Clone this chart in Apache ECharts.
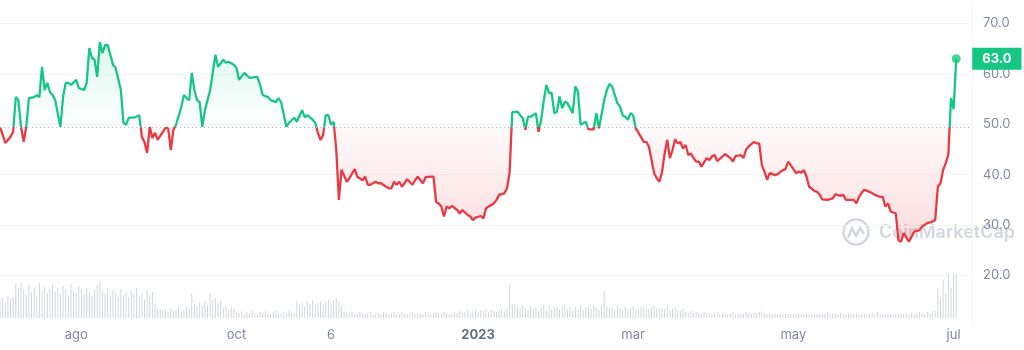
<!DOCTYPE html>
<html>
<head>
<meta charset="utf-8">
<script src="https://cdn.jsdelivr.net/npm/echarts@6/dist/echarts.min.js"></script>
<style>
  html, body { margin: 0; padding: 0; background: #ffffff; }
  #chart { width: 1024px; height: 350px; }
</style>
</head>
<body>
<div id="chart"></div>
<script>
// Daily category axis from the first day of the window to a few days past the last price.
const startDate = '2022-07-03';
const dayCount = 371;

// Bottom axis labels (date -> text)
const labelDates = ['2022-08-01', '2022-10-01', '2022-11-06', '2023-01-01', '2023-03-01', '2023-05-01', '2023-07-01'];
const labelTexts = ['ago', 'oct', '6', '2023', 'mar', 'may', 'jul'];

// Right axis tick labels
const yTickValues = [20, 30, 40, 50, 60, 70];

// Price: day offset from startDate and value
const priceDays = [
  0, 2, 4, 5, 6, 7, 8, 9, 10, 11, 13, 14, 15, 16, 17, 18, 19, 20, 21, 23,
  24, 25, 26, 27, 29, 30, 32, 33, 34, 35, 36, 37, 38, 39, 40, 41, 42, 43, 44, 46,
  47, 48, 49, 51, 53, 54, 55, 56, 57, 58, 59, 60, 62, 63, 64, 65, 66, 67, 69, 70,
  71, 72, 73, 74, 75, 76, 77, 78, 80, 82, 83, 85, 86, 87, 89, 90, 91, 93, 95, 98,
  99, 100, 102, 103, 105, 106, 107, 109, 110, 112, 113, 115, 116, 117, 119, 120, 121, 122, 123, 124,
  125, 126, 127, 128, 129, 130, 132, 133, 135, 136, 138, 139, 140, 141, 143, 144, 145, 147, 148, 149,
  150, 151, 152, 153, 154, 155, 157, 158, 159, 160, 161, 162, 164, 165, 166, 167, 168, 169, 170, 171,
  172, 174, 175, 176, 178, 179, 180, 181, 183, 184, 185, 186, 188, 189, 190, 192, 193, 194, 195, 197,
  198, 199, 200, 201, 202, 204, 205, 206, 207, 208, 209, 210, 211, 212, 213, 214, 215, 216, 218, 219,
  220, 221, 223, 224, 226, 227, 228, 230, 231, 232, 233, 235, 236, 237, 238, 239, 240, 241, 242, 244,
  245, 246, 247, 249, 250, 251, 252, 253, 254, 255, 256, 257, 258, 259, 260, 261, 262, 263, 264, 265,
  266, 267, 269, 270, 271, 272, 273, 275, 276, 278, 279, 280, 282, 283, 284, 285, 287, 288, 289, 290,
  291, 292, 293, 295, 296, 298, 299, 300, 301, 303, 304, 305, 306, 307, 308, 310, 311, 312, 313, 315,
  317, 318, 320, 321, 322, 325, 326, 327, 328, 329, 331, 333, 335, 336, 337, 338, 339, 341, 342, 343,
  344, 346, 347, 348, 350, 351, 353, 355, 356, 357, 358, 359, 360, 361, 362, 363, 364
];
const priceValues = [
  49.5, 46.3, 47.5, 48.5, 55.4, 54.8, 49.5, 46.5, 49.5, 55.2, 55.4, 55.8, 55.4, 61.4, 56.8, 58.2, 56.4, 55.8, 54.8, 49.5,
  55.4, 58.2, 58.2, 57.8, 58.8, 57.2, 56.8, 58.2, 65.1, 63.2, 62.8, 59.4, 66.3, 64.1, 65.7, 65.7, 63.8, 61.8, 61.2, 56.8,
  50.3, 49.9, 51.3, 51.3, 51.8, 47.5, 46.5, 44.3, 49.5, 47.3, 48.3, 46.9, 48.5, 49.3, 49.3, 44.9, 48.9, 49.9, 53.4, 55.8,
  55.2, 54.8, 60.2, 56.8, 54.8, 54.4, 49.5, 52.8, 56.8, 63.8, 61.4, 62.8, 62.2, 62.4, 61.8, 61.2, 58.8, 60.2, 59.2, 59.4,
  57.8, 55.8, 55.4, 54.8, 54.4, 55.2, 54.4, 49.5, 50.3, 51.3, 50.5, 52.8, 51.4, 51.8, 50.9, 50.3, 48.3, 46.9, 47.9, 51.8,
  51.8, 49.9, 50.5, 44.9, 35.0, 41.0, 38.6, 39.3, 41.1, 39.6, 38.9, 39.6, 38.0, 38.0, 38.6, 38.3, 38.3, 37.6, 37.3, 37.3,
  38.6, 38.0, 38.6, 37.6, 38.3, 39.1, 38.0, 38.9, 39.6, 38.9, 38.3, 39.5, 39.6, 39.6, 34.6, 34.3, 33.7, 31.7, 33.7, 33.3,
  33.8, 33.0, 32.3, 33.0, 32.0, 31.7, 31.0, 31.5, 31.8, 31.3, 33.3, 33.7, 34.3, 35.0, 36.0, 36.3, 37.3, 40.5, 52.4, 52.5,
  51.8, 51.2, 48.9, 51.5, 51.5, 52.2, 48.5, 50.9, 54.8, 57.8, 56.2, 56.2, 52.2, 52.5, 55.5, 53.2, 54.5, 54.2, 52.2, 57.5,
  56.5, 49.9, 50.5, 49.0, 49.0, 52.2, 49.2, 54.8, 56.8, 58.0, 57.5, 54.2, 53.5, 51.8, 51.5, 50.9, 52.2, 51.8, 49.2, 47.5,
  46.5, 46.5, 45.6, 40.3, 39.3, 38.6, 40.5, 44.2, 46.9, 43.3, 44.9, 47.0, 46.2, 46.5, 45.2, 45.9, 43.9, 44.2, 43.3, 42.6,
  42.6, 41.6, 43.3, 42.9, 43.6, 43.9, 42.7, 43.6, 44.1, 43.3, 42.6, 43.7, 43.9, 43.3, 45.0, 45.6, 46.5, 46.2, 46.2, 41.9,
  40.6, 39.0, 40.3, 39.9, 40.1, 40.9, 41.1, 42.6, 41.9, 40.3, 40.6, 40.4, 40.9, 39.6, 37.6, 36.8, 36.6, 36.0, 35.1, 35.0,
  35.3, 36.1, 35.8, 36.0, 35.0, 35.0, 34.3, 35.6, 36.4, 37.0, 36.6, 36.0, 35.6, 35.6, 33.7, 34.3, 32.7, 32.3, 27.0, 26.7,
  28.4, 26.7, 27.7, 28.7, 29.0, 29.7, 30.4, 30.7, 31.0, 37.6, 38.3, 40.9, 42.3, 44.0, 55.2, 53.0, 63.0
];

// Daily traded volume (relative units), one value per day from startDate
const volumes = [
  18, 20, 16, 22, 19, 21, 34, 30, 36,
  28, 24, 33, 26, 30, 22, 35, 27, 31, 25, 29, 33,
  26, 30, 24, 32, 28, 23, 34, 27, 25, 31, 29, 24, 30, 26, 22, 28, 33, 37,
  27, 24, 30, 22, 28, 25, 20, 29, 23, 26, 21, 27, 24, 30, 22, 25, 19, 28, 23, 26,
  14, 10, 9, 8,
  8, 6, 10, 7, 9, 11, 6, 8, 12, 10, 25, 14, 12, 15, 11, 16, 13, 25, 18, 20, 15, 17, 10, 12, 8, 11, 9,
  6, 5, 7, 4, 6, 5, 8, 5, 4, 6, 5, 7, 5, 4, 6, 8, 5, 4, 6, 5, 7, 6, 5,
  17, 13, 15, 12, 16, 14, 18, 13, 15, 17, 14, 16, 19, 15, 18, 20, 16, 12,
  7, 6, 5, 6, 4, 5, 6, 5, 4, 5, 6, 4, 5, 5, 4, 6, 5, 4, 5, 6,
  5, 4, 6, 5, 4, 5, 6, 4, 5, 5, 4, 6, 5, 4, 5, 6, 5, 4, 6, 5,
  4, 5, 6, 5, 7, 5, 6, 8, 5, 7, 9, 6, 8, 7, 9, 6, 8, 7, 6, 8, 9, 7,
  10, 33, 14,
  14, 11, 9, 13, 10, 8, 12, 9, 11, 7, 10, 13, 8, 12, 9, 10, 11, 8, 12, 14, 9, 10, 7, 11, 9, 12, 8, 10, 11, 9, 13, 10, 8,
  12, 27,
  12, 10, 11, 9, 13, 10, 8, 11, 9, 10, 12, 8, 9, 11, 10, 8, 9, 10, 12, 9, 8, 10, 9, 11, 8, 9, 10, 8, 7, 9,
  6, 5, 7, 5, 6, 5, 4, 6, 5, 5, 4, 5, 6, 4, 5, 5, 4, 5, 6, 4,
  5, 5, 4, 6, 5, 4, 5, 5, 6, 7, 5, 4, 5, 4, 5, 4, 5, 4, 5, 4,
  5, 4, 4, 5, 4, 4, 5, 4, 4, 5, 4, 4, 5, 4, 6, 4, 5, 4, 4, 5,
  4, 4, 5, 4, 4, 5, 4, 4, 5, 4, 4, 5, 4, 6, 4, 4, 4, 5, 4, 4,
  5, 4, 5, 4, 5, 4, 5, 4, 5, 6, 5, 4, 6, 5, 7,
  8, 30, 20, 38, 25, 44, 30, 45, 44
];

const GREEN = '#16c784';
const RED = '#ea3943';
const LABEL_GREY = '#808a9d';

const categories = [];
const t0 = Date.parse(startDate + 'T00:00:00Z');
for (let i = 0; i < dayCount; i++) {
  categories.push(new Date(t0 + i * 86400000).toISOString().slice(0, 10));
}

const priceData = priceDays.map((d, i) => [d, priceValues[i]]);
const baseline = priceValues[0];
const lastPoint = priceData[priceData.length - 1];
const maxV = Math.max(...priceValues);
const minV = Math.min(...priceValues);
const baseOffset = (maxV - baseline) / (maxV - minV);

const chart = echarts.init(document.getElementById('chart'), null, { renderer: 'canvas' });

chart.setOption({
  animation: false,
  textStyle: { fontFamily: 'Inter' },
  grid: [
    { left: 0, right: 52, top: 3.3, bottom: 24.1 },
    { left: 0, right: 52, top: 270, bottom: 32 }
  ],
  xAxis: [
    { type: 'category', gridIndex: 0, data: categories, boundaryGap: false, show: false },
    {
      type: 'category', gridIndex: 1, data: categories, boundaryGap: false,
      axisLine: { show: false }, axisTick: { show: false }, splitLine: { show: false },
      axisLabel: {
        interval: (idx, val) => labelDates.indexOf(val) >= 0,
        formatter: (val) => {
          const k = labelDates.indexOf(val);
          if (k < 0) return '';
          const t = labelTexts[k];
          return /^\d{4}$/.test(t) ? '{b|' + t + '}' : t;
        },
        color: LABEL_GREY, fontSize: 13, fontFamily: 'Inter', margin: 11,
        rich: { b: { fontWeight: 'bold', color: '#616e85', fontSize: 13, fontFamily: 'Inter' } }
      }
    }
  ],
  yAxis: [
    {
      type: 'value', gridIndex: 0, position: 'right', min: 10, max: 74, interval: 10,
      axisLine: { show: true, lineStyle: { color: '#f4f5f7' } },
      axisTick: { show: false },
      axisLabel: {
        formatter: (v) => (yTickValues.indexOf(v) >= 0 ? v.toFixed(1) : ''),
        color: LABEL_GREY, fontSize: 13, fontFamily: 'Inter', margin: 11
      },
      splitLine: {
        lineStyle: {
          width: 1,
          color: ['transparent', '#f3f4f6', '#f3f4f6', '#f3f4f6', '#f3f4f6', '#f3f4f6', '#f3f4f6', 'transparent']
        }
      }
    },
    { type: 'value', gridIndex: 1, min: 0, max: 48, show: false }
  ],
  visualMap: {
    show: false,
    type: 'piecewise',
    seriesIndex: 0,
    dimension: 1,
    pieces: [
      { gt: 0, lte: baseline, color: RED },
      { gt: baseline, lte: 100, color: GREEN }
    ]
  },
  graphic: [
    {
      type: 'circle', z: 0, silent: true,
      shape: { cx: 856, cy: 232, r: 12.5 },
      style: { fill: 'none', stroke: '#d3d7dd', lineWidth: 2.5 }
    },
    {
      type: 'polyline', z: 0, silent: true,
      shape: { points: [[848, 238], [852, 228], [856, 236], [860, 228], [864, 234]] },
      style: { fill: 'none', stroke: '#d3d7dd', lineWidth: 2.5 }
    },
    {
      type: 'text', z: 0, silent: true, x: 879, y: 233,
      style: { text: 'CoinMarketCap', font: '600 18px Inter', fill: '#d3d7dd', verticalAlign: 'middle' }
    }
  ],
  series: [
    {
      type: 'line', xAxisIndex: 0, yAxisIndex: 0, data: priceData,
      showSymbol: false, symbol: 'none', z: 3,
      lineStyle: { width: 2.3 },
      areaStyle: {
        origin: baseline,
        color: {
          type: 'linear', x: 0, y: 0, x2: 0, y2: 1,
          colorStops: [
            { offset: 0, color: 'rgba(22,199,132,0.20)' },
            { offset: baseOffset, color: 'rgba(22,199,132,0.01)' },
            { offset: baseOffset, color: 'rgba(234,57,67,0.04)' },
            { offset: 1, color: 'rgba(234,57,67,0.25)' }
          ]
        }
      },
      markLine: {
        silent: true, symbol: 'none', label: { show: false },
        lineStyle: { type: [1, 3], color: '#b3bac6', width: 1 },
        data: [{ yAxis: baseline }]
      },
      endLabel: {
        show: true,
        formatter: (p) => p.value[1].toFixed(1),
        backgroundColor: GREEN, color: '#ffffff',
        fontWeight: 'bold', fontSize: 13, fontFamily: 'Inter',
        padding: [5, 10, 4, 10], distance: 16
      }
    },
    {
      type: 'scatter', xAxisIndex: 0, yAxisIndex: 0, data: [lastPoint],
      symbolSize: 9, itemStyle: { color: GREEN }, z: 4, silent: true
    },
    {
      type: 'bar', xAxisIndex: 1, yAxisIndex: 1, data: volumes,
      barWidth: 1, itemStyle: { color: '#d2d6dd' }, silent: true
    }
  ]
});
</script>
</body>
</html>
